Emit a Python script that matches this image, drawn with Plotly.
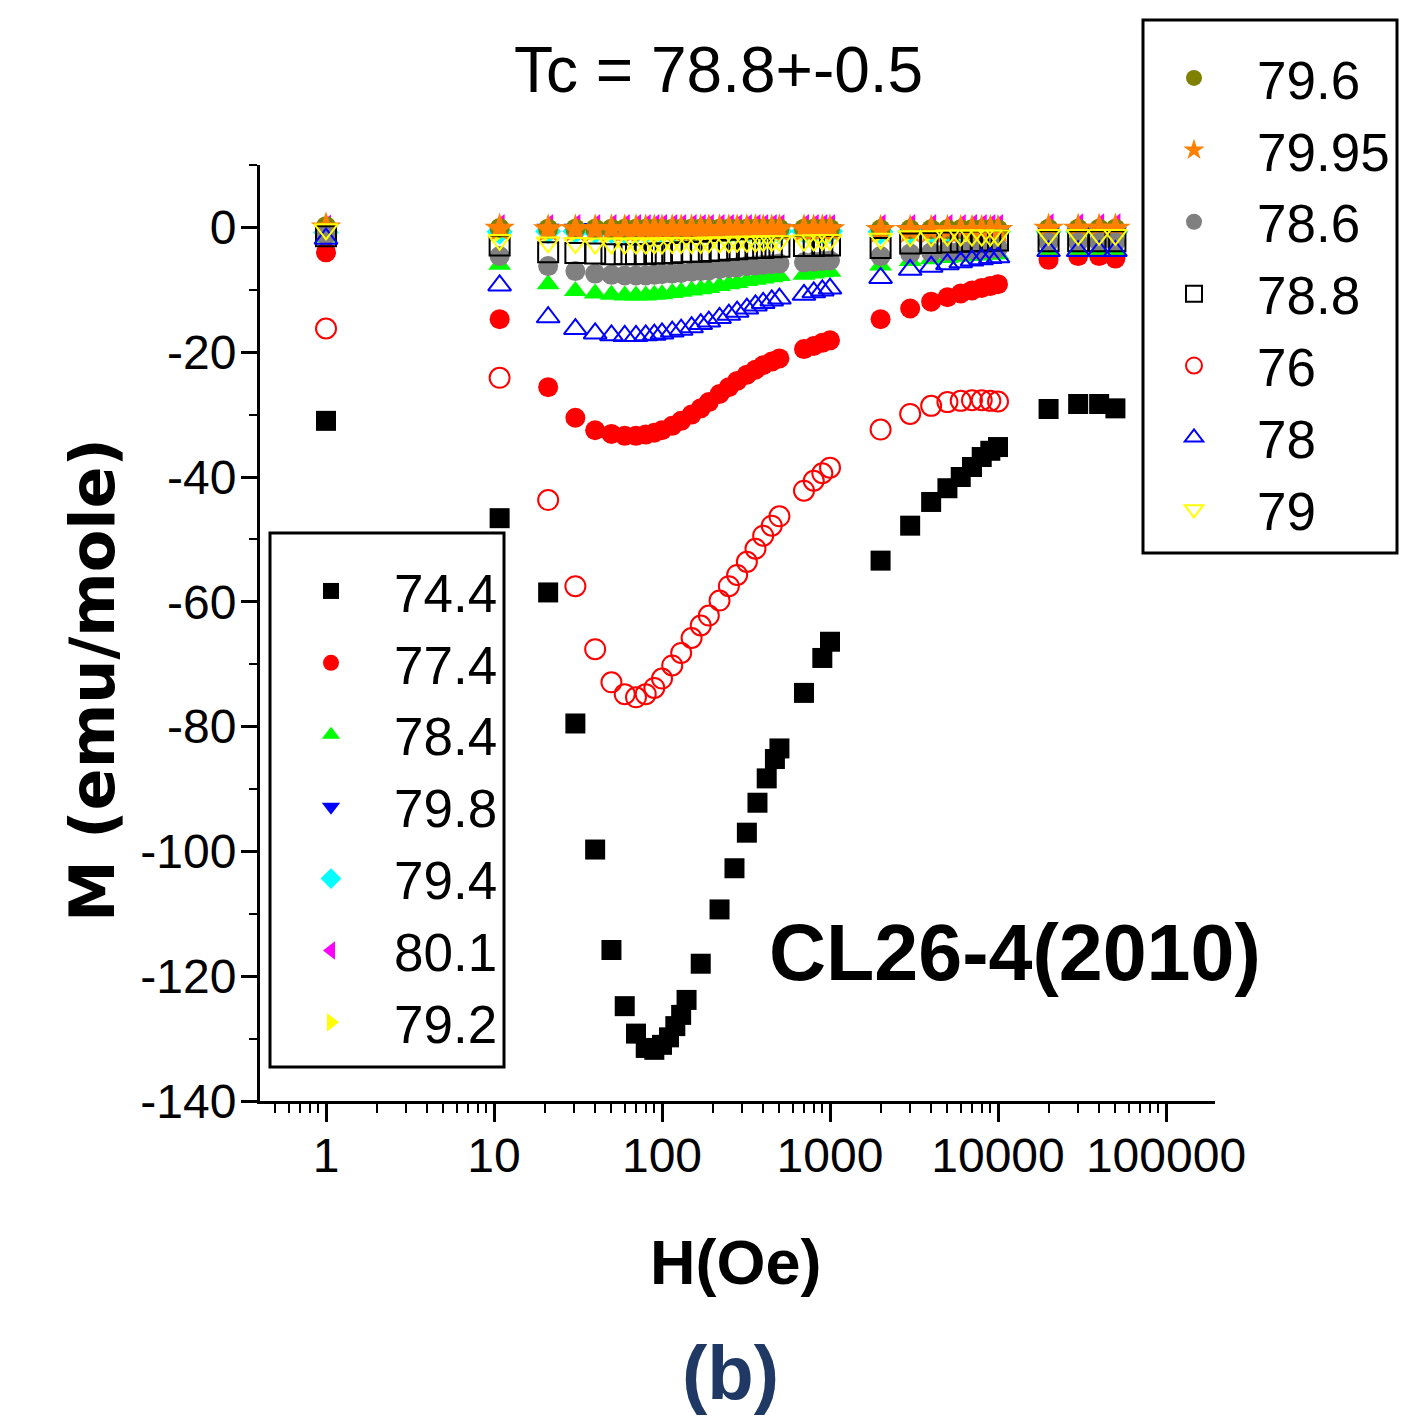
import plotly.graph_objects as go

# ---------------- data ----------------
H_MAIN = [1, 10.8, 21, 30.5, 40, 50, 60, 70, 80, 90, 100, 115, 130, 150, 170, 190, 220, 250,
          280, 320, 360, 400, 450, 500, 700, 800, 900, 1000, 2000, 3000, 4000, 5000, 6000,
          7000, 8000, 9000, 10000, 20000, 30000, 40000, 50000]
H_76 = [1, 10.8, 21, 30.5, 40, 50, 60, 70, 80, 90, 100, 115, 130, 150, 170, 190, 220, 250,
        280, 320, 360, 400, 450, 500, 700, 800, 900, 1000, 2000, 3000, 4000, 5000, 6000,
        7000, 8000, 9000, 10000]
H_744 = [1, 10.8, 21, 30.5, 40, 50, 60, 70, 80, 90, 100, 110, 120, 130, 140, 170, 220, 270,
         320, 370, 420, 470, 500, 700, 900, 1000, 2000, 3000, 4000, 5000, 6000, 7000, 8000,
         9000, 10000, 20000, 30000, 40000, 50000]

M_744 = [-31.0, -46.6, -58.5, -79.5, -99.7, -115.8, -124.8, -129.2, -131.5, -131.8, -131.0,
         -129.8, -128.0, -126.2, -123.8, -118.0, -109.3, -102.7, -97.0, -92.2, -88.3, -85.2,
         -83.5, -74.6, -69.0, -66.4, -53.4, -47.8, -44.0, -41.8, -40.0, -38.4, -36.8, -35.8,
         -35.2, -29.1, -28.3, -28.3, -29.0]
M_774 = [-4.0, -14.7, -25.6, -30.5, -32.5, -33.1, -33.4, -33.4, -33.2, -32.9, -32.5, -31.8,
         -31.0, -30.0, -29.0, -28.0, -26.7, -25.6, -24.6, -23.6, -22.8, -22.1, -21.5, -21.0,
         -19.5, -19.0, -18.5, -18.1, -14.7, -13.0, -11.9, -11.2, -10.6, -10.1, -9.7, -9.4,
         -9.1, -5.2, -4.6, -4.6, -5.0]
M_784 = [-1.6, -6.0, -9.1, -10.2, -10.6, -10.8, -10.9, -10.9, -10.9, -10.8, -10.7, -10.5,
         -10.3, -10.1, -9.9, -9.7, -9.4, -9.1, -8.9, -8.6, -8.4, -8.2, -8.0, -7.8, -7.6, -7.4,
         -7.2, -7.1, -6.1, -5.4, -5.1, -4.9, -4.7, -4.6, -4.5, -4.4, -4.3, -3.6, -3.6, -3.6,
         -3.6]
M_798 = [-0.6, -0.3, -0.2, -0.2, -0.1, -0.1, -0.1, -0.1, -0.1, -0.1, -0.1, -0.1, -0.1, -0.1,
         -0.1, -0.1, -0.1, -0.1, -0.1, -0.2, -0.2, -0.2, -0.2, -0.2, -0.3, -0.3, -0.3, -0.3,
         -0.6, -0.7, -0.7, -0.8, -0.8, -0.8, -0.8, -0.8, -0.8, -0.8, -0.8, -0.8, -0.8]
M_794 = [-0.8, -0.7, -0.6, -0.6, -0.6, -0.6, -0.6, -0.6, -0.6, -0.6, -0.6, -0.6, -0.6, -0.6,
         -0.6, -0.6, -0.6, -0.6, -0.6, -0.6, -0.6, -0.6, -0.6, -0.6, -0.6, -0.6, -0.6, -0.6,
         -0.7, -0.7, -0.7, -0.7, -0.7, -0.7, -0.7, -0.7, -0.7, -0.7, -0.7, -0.7, -0.7]
M_801 = [0.2, 0.3, 0.3, 0.3, 0.3, 0.3, 0.3, 0.3, 0.3, 0.3, 0.3, 0.3, 0.3, 0.3, 0.3, 0.3, 0.3,
         0.3, 0.3, 0.3, 0.3, 0.3, 0.3, 0.3, 0.3, 0.3, 0.3, 0.3, 0.3, 0.3, 0.3, 0.3, 0.3, 0.3,
         0.3, 0.3, 0.3, 0.4, 0.4, 0.4, 0.4]
M_792 = [-0.5, -0.6, -0.6, -0.6, -0.6, -0.6, -0.6, -0.6, -0.6, -0.6, -0.6, -0.6, -0.6, -0.6,
         -0.6, -0.6, -0.6, -0.6, -0.6, -0.6, -0.6, -0.6, -0.6, -0.6, -0.6, -0.6, -0.6, -0.6,
         -0.6, -0.6, -0.6, -0.6, -0.6, -0.6, -0.6, -0.6, -0.6, -0.6, -0.6, -0.6, -0.6]
M_796 = [0.2, -0.1, -0.2, -0.2, -0.2, -0.2, -0.2, -0.2, -0.2, -0.2, -0.2, -0.2, -0.2, -0.2,
         -0.2, -0.2, -0.2, -0.2, -0.2, -0.2, -0.2, -0.2, -0.2, -0.2, -0.2, -0.2, -0.2, -0.2,
         -0.3, -0.3, -0.3, -0.3, -0.3, -0.3, -0.3, -0.3, -0.3, -0.2, -0.2, -0.2, -0.2]
M_7995 = [0.0, -0.2, -0.3, -0.3, -0.3, -0.3, -0.3, -0.3, -0.3, -0.3, -0.3, -0.3, -0.3, -0.3,
          -0.3, -0.3, -0.3, -0.3, -0.3, -0.3, -0.3, -0.3, -0.3, -0.3, -0.3, -0.3, -0.3, -0.3,
          -0.4, -0.4, -0.4, -0.4, -0.4, -0.4, -0.4, -0.4, -0.4, -0.2, -0.2, -0.2, -0.2]
M_786 = [-1.2, -4.6, -6.2, -7.0, -7.4, -7.6, -7.7, -7.7, -7.7, -7.6, -7.5, -7.4, -7.3, -7.1,
         -7.0, -6.9, -6.7, -6.5, -6.4, -6.2, -6.1, -6.0, -5.9, -5.8, -5.6, -5.5, -5.4, -5.3,
         -4.6, -4.2, -4.0, -3.8, -3.7, -3.6, -3.5, -3.4, -3.3, -2.4, -2.4, -2.4, -2.4]
M_788 = [-1.4, -2.9, -4.0, -4.1, -4.2, -4.3, -4.3, -4.3, -4.3, -4.2, -4.2, -4.1, -4.0, -3.9,
         -3.9, -3.8, -3.7, -3.6, -3.5, -3.4, -3.3, -3.3, -3.2, -3.1, -3.0, -3.0, -2.9, -2.9,
         -3.3, -2.6, -2.5, -2.4, -2.3, -2.2, -2.2, -2.1, -2.1, -2.2, -2.2, -2.2, -2.2]
M_76 = [-16.2, -24.1, -43.7, -57.5, -67.6, -72.9, -74.8, -75.3, -74.8, -73.8, -72.3, -70.2,
        -68.2, -65.8, -63.8, -62.2, -59.8, -57.5, -55.7, -53.6, -51.5, -49.4, -47.8, -46.3,
        -42.2, -40.6, -39.4, -38.5, -32.4, -29.9, -28.6, -28.0, -27.8, -27.7, -27.7, -27.8,
        -27.9]
M_78 = [-1.8, -9.3, -14.4, -16.3, -17.0, -17.3, -17.4, -17.4, -17.3, -17.2, -17.0, -16.7,
        -16.4, -16.0, -15.5, -15.1, -14.5, -14.0, -13.5, -13.0, -12.5, -12.1, -11.7, -11.4,
        -10.8, -10.4, -10.1, -9.8, -8.1, -6.8, -6.3, -5.9, -5.6, -5.3, -5.1, -4.9, -4.8,
        -3.8, -3.8, -3.8, -3.8]
M_79 = [-0.3, -2.0, -2.4, -2.5, -2.6, -2.6, -2.6, -2.6, -2.6, -2.6, -2.6, -2.5, -2.5, -2.5,
        -2.5, -2.4, -2.4, -2.4, -2.3, -2.3, -2.3, -2.2, -2.2, -2.2, -2.1, -2.1, -2.0, -2.0,
        -1.8, -1.4, -1.4, -1.3, -1.3, -1.3, -1.3, -1.3, -1.3, -1.2, -1.2, -1.2, -1.2]

X_TICKS = [1, 10, 100, 1000, 10000, 100000]
X_TICKTEXT = ["1", "10", "100", "1000", "10000", "100000"]
Y_TICKS = [-140, -120, -100, -80, -60, -40, -20, 0]
Y_TICKTEXT = ["-140", "-120", "-100", "-80", "-60", "-40", "-20", "0"]

# (label, H, M, symbol, colour, legend)
SERIES = [
    ("74.4", H_744, M_744, "square", "#000000", "legend"),
    ("77.4", H_MAIN, M_774, "circle", "#FF0000", "legend"),
    ("78.4", H_MAIN, M_784, "triangle-up", "#00FF00", "legend"),
    ("79.8", H_MAIN, M_798, "triangle-down", "#0000FF", "legend"),
    ("79.4", H_MAIN, M_794, "diamond", "#00FFFF", "legend"),
    ("80.1", H_MAIN, M_801, "triangle-left", "#FF00FF", "legend"),
    ("79.2", H_MAIN, M_792, "triangle-right", "#FFFF00", "legend"),
    ("79.6", H_MAIN, M_796, "circle", "#808000", "legend2"),
    ("79.95", H_MAIN, M_7995, "star", "#FF8000", "legend2"),
    ("78.6", H_MAIN, M_786, "circle", "#808080", "legend2"),
    ("78.8", H_MAIN, M_788, "square-open", "#000000", "legend2"),
    ("76", H_76, M_76, "circle-open", "#FF0000", "legend2"),
    ("78", H_MAIN, M_78, "triangle-up-open", "#0000FF", "legend2"),
    ("79", H_MAIN, M_79, "triangle-down-open", "#FFFF00", "legend2"),
]

SANS = "Liberation Sans, Arial, sans-serif"

# plot area in pixels
L, R, T, B = 260, 1215, 165, 1101
W, Hgt = 1418, 1421


def px_x(p):
    return (p - L) / (R - L)


def px_y(p):
    return (B - p) / (B - T)


fig = go.Figure()
for name, hx, my, sym, col, leg in SERIES:
    is_open = sym.endswith("open")
    size = 23 if sym == "star" else 20
    fig.add_trace(go.Scatter(
        x=hx, y=my, mode="markers", name=name, legend=leg,
        marker=dict(symbol=sym, size=size, color=col,
                    line=dict(width=2 if is_open else 0, color=col)),
    ))

axis_font = dict(family=SANS, size=48, color="black")
leg_font = dict(family=SANS, size=53, color="black")
fig.update_layout(
    width=W, height=Hgt,
    margin=dict(l=L, r=W - R, t=T, b=Hgt - B, pad=0),
    paper_bgcolor="white", plot_bgcolor="white",
    showlegend=True,
    xaxis=dict(type="log", range=[-0.393, 5.2917], showline=True, linewidth=3,
               linecolor="black", ticks="outside", ticklen=18, tickwidth=3,
               tickcolor="black", tickmode="array", tickvals=X_TICKS,
               ticktext=X_TICKTEXT, tickfont=axis_font, showgrid=False,
               zeroline=False, mirror=False, ticklabelstandoff=-8,
               minor=dict(ticks="outside", ticklen=9, tickwidth=2, tickcolor="black",
                          dtick="D1", showgrid=False)),
    yaxis=dict(range=[-140, 10], showline=True, linewidth=3, linecolor="black",
               ticks="outside", ticklen=16, tickwidth=3, tickcolor="black",
               tickmode="array", tickvals=Y_TICKS, ticktext=Y_TICKTEXT,
               tickfont=axis_font, showgrid=False, zeroline=False, mirror=False,
               ticklabelstandoff=-5,
               minor=dict(ticks="outside", ticklen=8, tickwidth=2, tickcolor="black",
                          dtick=10, tick0=0, showgrid=False)),
    legend=dict(x=px_x(268), y=px_y(550), xanchor="left", yanchor="top",
                bgcolor="rgba(0,0,0,0)", borderwidth=0, itemwidth=116,
                tracegroupgap=0, itemsizing="trace", font=leg_font),
    legend2=dict(x=px_x(1131), y=px_y(37), xanchor="left", yanchor="top",
                 bgcolor="rgba(0,0,0,0)", borderwidth=0, itemwidth=116,
                 tracegroupgap=0, itemsizing="trace", font=leg_font),
    shapes=[
        dict(type="rect", xref="paper", yref="paper", x0=px_x(270), x1=px_x(504),
             y0=px_y(1067), y1=px_y(533), line=dict(color="black", width=3)),
        dict(type="rect", xref="paper", yref="paper", x0=px_x(1143), x1=px_x(1397),
             y0=px_y(553), y1=px_y(20), line=dict(color="black", width=3)),
    ],
    annotations=[
        dict(text="Tc = 78.8+-0.5", x=px_x(718), y=px_y(70), xref="paper", yref="paper",
             showarrow=False, xanchor="center", yanchor="middle",
             font=dict(family=SANS, size=64, color="black")),
        dict(text="CL26-4(2010)", x=px_x(1015), y=px_y(952), xref="paper", yref="paper",
             showarrow=False, xanchor="center", yanchor="middle",
             font=dict(family=SANS, size=79, color="black", weight="bold")),
        dict(text="H(Oe)", x=px_x(736), y=px_y(1262), xref="paper", yref="paper",
             showarrow=False, xanchor="center", yanchor="middle",
             font=dict(family=SANS, size=63, color="black", weight="bold")),
        dict(text="M (emu/mole)", x=px_x(92), y=px_y(680), xref="paper", yref="paper",
             showarrow=False, xanchor="center", yanchor="middle", textangle=-90,
             font=dict(family="DejaVu Sans", size=62, color="black", weight="bold")),
        dict(text="(b)", x=px_x(730), y=px_y(1372), xref="paper", yref="paper",
             showarrow=False, xanchor="center", yanchor="middle",
             font=dict(family=SANS, size=76, color="#1F3864", weight="bold")),
    ],
)

fig.write_html("out.html")
